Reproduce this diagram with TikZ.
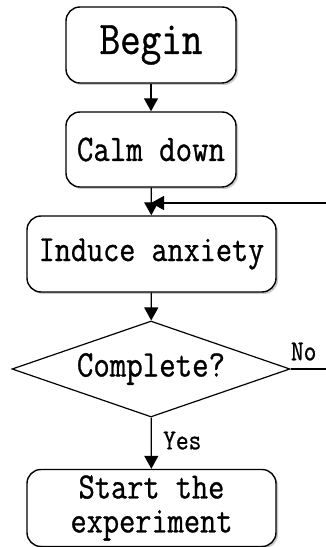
\documentclass[tikz,border=0pt]{standalone}
\usepackage{fontspec}
\setmonofont[FakeStretch=0.85,FakeBold=0.8]{Latin Modern Mono}
\usepackage{tikz}
\usetikzlibrary{arrows.meta,positioning,shapes.geometric,shadows,calc}
\definecolor{ink}{RGB}{0,0,0}
\definecolor{shade}{RGB}{150,150,150}

\begin{document}
\begin{tikzpicture}[x=1pt,y=1pt,
    stepbox/.style={draw=ink,line width=1.4pt,rounded corners=14pt,fill=white,
      drop shadow={shadow xshift=2pt,shadow yshift=-2pt,fill=shade},
      inner sep=0pt,align=center,font=\ttfamily},
    testbox/.style={draw=ink,line width=1.2pt,diamond,aspect=2.9,inner sep=0pt,
      minimum width=278pt,minimum height=96pt,font=\ttfamily\fontsize{37.6}{38}\selectfont},
    flow/.style={ink,line width=1.3pt,-{Triangle[length=13pt,width=14pt]}},
    tag/.style={font=\ttfamily\fontsize{29}{30}\selectfont}]
        \useasboundingbox (0,0) rectangle (326,547);
        \node[stepbox,minimum width=170pt,minimum height=76pt,font=\ttfamily\fontsize{47}{48}\selectfont] (begin) at (151,502) {Begin};
        \node[stepbox,minimum width=170pt,minimum height=75pt,font=\ttfamily\fontsize{37.6}{38}\selectfont] (calm) at (151,397.5) {Calm down};
        \node[stepbox,minimum width=249pt,minimum height=76pt,font=\ttfamily\fontsize{36.8}{38}\selectfont] (induce) at (151.5,293) {Induce anxiety};
        \node[testbox] (check) at (151,178) {Complete?};
        \node[stepbox,minimum width=249pt,minimum height=77pt,font=\ttfamily\fontsize{37}{34}\selectfont] (start) at (151.5,39) {Start the\\experiment};
        % loop back from the test
        \coordinate (edge) at (328,178);
        \coordinate (join) at (calm.south |- 0,344);
        \draw[flow] (begin) -- (calm);
        \draw[flow] (calm) -- (induce);
        \draw[flow] (induce) -- (check);
        \draw[flow] (check) -- node[tag,right=8pt,pos=0.45] (yes) {Yes} (start);
        \draw[flow] (check.east) -- (edge) |- (join);
        \node[tag,above=5pt] (no) at ($(check.east)!0.35!(edge)$) {No};
      \end{tikzpicture}
\end{document}
